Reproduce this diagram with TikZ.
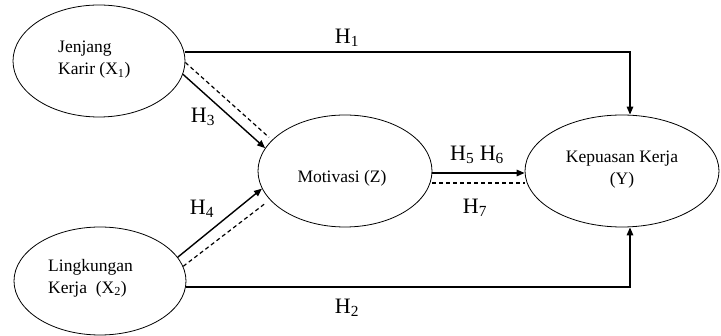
\documentclass[tikz,border=0pt]{standalone}
\usepackage{fontspec}
\setmainfont{Liberation Serif}
\usetikzlibrary{arrows.meta,shapes.geometric}
\begin{document}
\begin{tikzpicture}[x=1pt,y=-1pt,
  var/.style={draw,ellipse,line width=0.8pt,inner sep=0pt},
  vtext/.style={font=\fontsize{17.5}{22}\selectfont,inner sep=0pt},
  hlab/.style={font=\fontsize{22}{24}\selectfont,inner sep=0pt},
  path1/.style={line width=1.4pt,-{Triangle[length=8pt,width=6.5pt]}},
  path2/.style={line width=1.2pt,dash pattern=on 4pt off 3pt}]
\useasboundingbox (0,0) rectangle (721,336);
% variables
\node[var,minimum width=172pt,minimum height=112pt] (X1) at (99,61) {};
\node[var,minimum width=172pt,minimum height=108pt] (X2) at (100,281) {};
\node[var,minimum width=174pt,minimum height=112pt] (Z) at (345,171) {};
\node[var,minimum width=194pt,minimum height=112pt] (Y) at (622,171) {};
% texts
\node[vtext,anchor=west,align=left] (tX1) at (58,60) {Jenjang\\Karir (X\textsubscript{1})};
\node[vtext,anchor=west,align=left] (tX2) at (48,278) {Lingkungan\\Kerja \ (X\textsubscript{2})};
\node[vtext] (tZ) at (342,178) {Motivasi (Z)};
\node[vtext,align=center] (tY) at (622,170) {Kepuasan Kerja\\(Y)};
% connectors
\draw[path1] ([yshift=9pt]X1.east) -| ([xshift=8pt]Y.north);
\draw[path1] ([yshift=-6pt]X2.east) -| ([xshift=8pt]Y.south);
\draw[path1] (X1.-9) -- (Z.164);
\draw[path2,shorten >=4pt] (X1.-1) -- (Z.157);
\draw[path1] (X2.17) -- (Z.-168);
\draw[path2,shorten >=7pt] (X2.10) -- (Z.-159);
\draw[path1] ([yshift=-2pt]Z.east) -- ([yshift=-2pt]Y.west);
\draw[path2] ([yshift=-12pt]Z.east) -- ([yshift=-12pt]Y.west);
% labels
\node[hlab] (h1) at (347,38) {H\textsubscript{1}};
\node[hlab] (h2) at (347,308) {H\textsubscript{2}};
\node[hlab] (h3) at (203,117) {H\textsubscript{3}};
\node[hlab] (h4) at (202,209) {H\textsubscript{4}};
\node[hlab] (h56) at (477,155) {H\textsubscript{5} H\textsubscript{6}};
\node[hlab] (h7) at (475,208) {H\textsubscript{7}};
\end{tikzpicture}
\end{document}
